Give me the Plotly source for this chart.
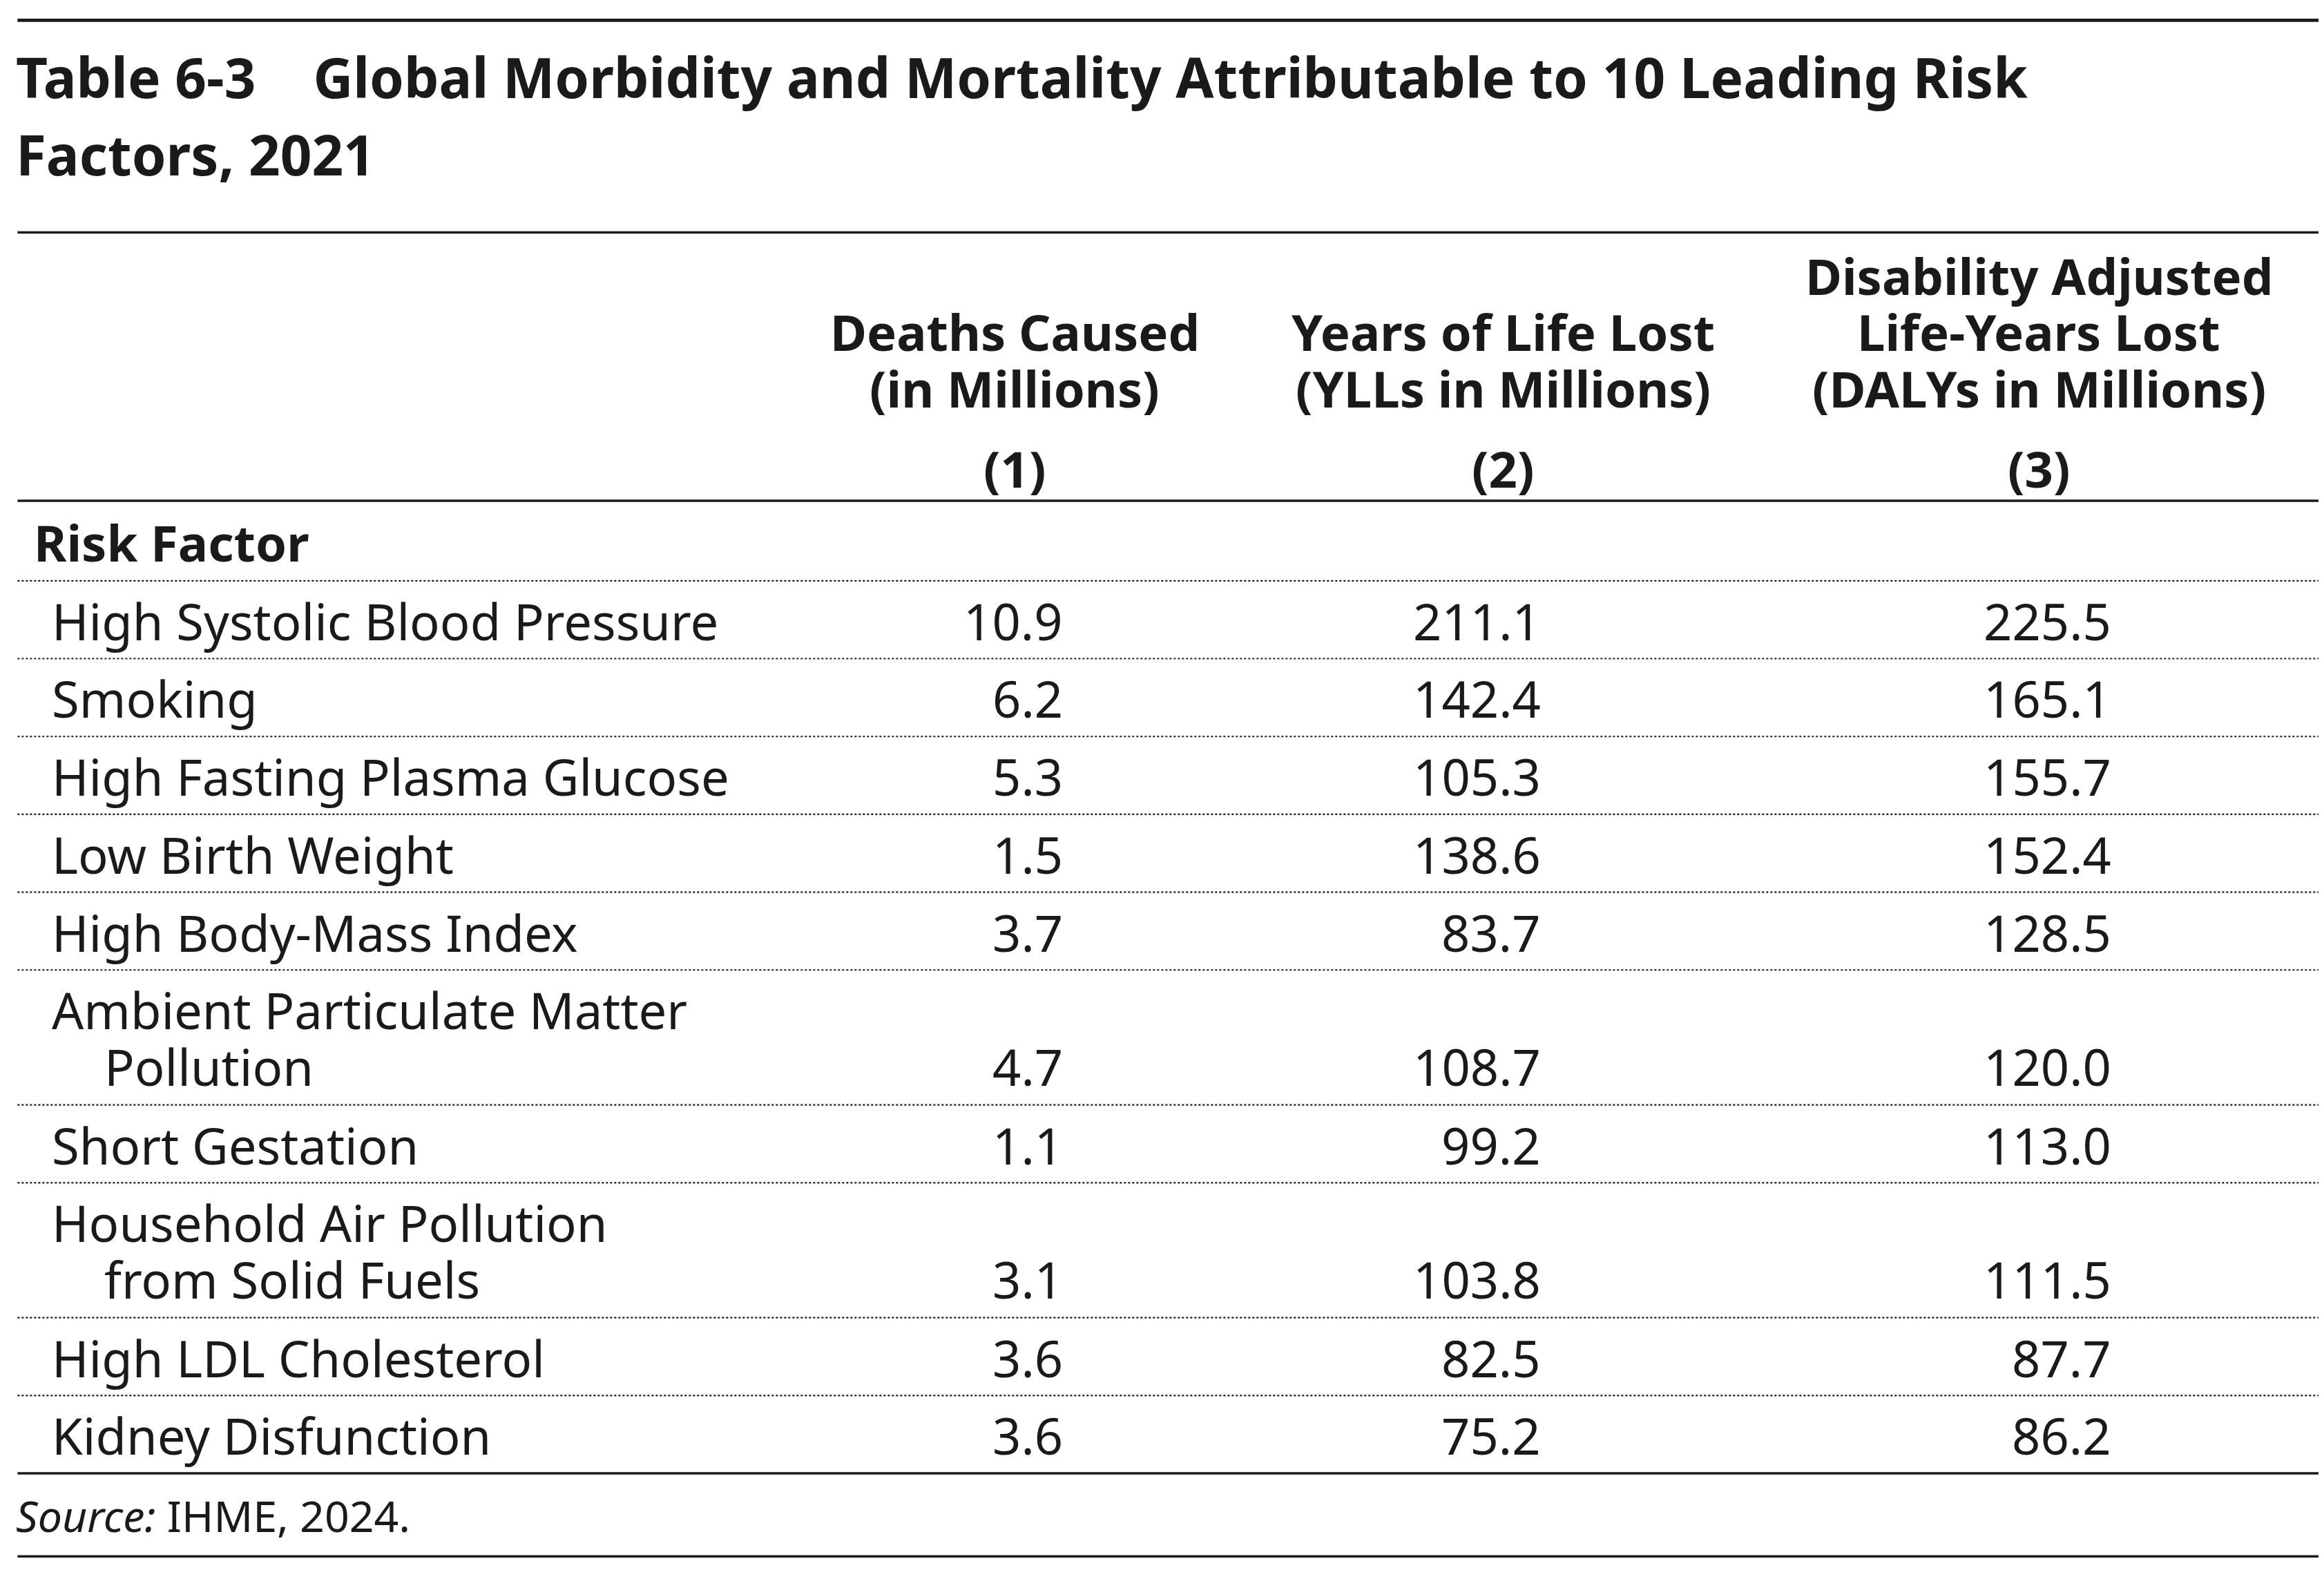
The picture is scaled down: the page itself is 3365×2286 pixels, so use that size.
import plotly.graph_objects as go

# table content
title_lines = ["Table 6-3    Global Morbidity and Mortality Attributable to 10 Leading Risk", "Factors, 2021"]
col_heads = [["Deaths Caused", "(in Millions)"],
             ["Years of Life Lost", "(YLLs in Millions)"],
             ["Disability Adjusted", "Life-Years Lost", "(DALYs in Millions)"]]
col_nums = ["(1)", "(2)", "(3)"]
risk_factors = [["High Systolic Blood Pressure"], ["Smoking"], ["High Fasting Plasma Glucose"],
                ["Low Birth Weight"], ["High Body-Mass Index"],
                ["Ambient Particulate Matter", "Pollution"], ["Short Gestation"],
                ["Household Air Pollution", "from Solid Fuels"], ["High LDL Cholesterol"],
                ["Kidney Disfunction"]]
deaths = ["10.9", "6.2", "5.3", "1.5", "3.7", "4.7", "1.1", "3.1", "3.6", "3.6"]
ylls = ["211.1", "142.4", "105.3", "138.6", "83.7", "108.7", "99.2", "103.8", "82.5", "75.2"]
dalys = ["225.5", "165.1", "155.7", "152.4", "128.5", "120.0", "113.0", "111.5", "87.7", "86.2"]
source = "<i>Source:</i> IHME, 2024."

S = 2.16  # display-to-pixel scale
FONT = "Noto Sans"
INK = "#1a1a1a"
fig = go.Figure()
ann = []
shapes = []

def text(x, y, s, size, bold=False, anchor="left"):
    if bold:
        s = "<b>" + s + "</b>"
    ann.append(dict(x=x, y=y, text=s, showarrow=False, xanchor=anchor, yanchor="middle",
                    font=dict(family=FONT, size=size * S, color=INK)))

def hline(y, w, dot=False):
    shapes.append(dict(type="line", x0=8, x1=1546, y0=y, y1=y,
                       line=dict(color=INK, width=w, dash="dot" if dot else "solid")))

# title
text(6, 48, title_lines[0], 37, True)
text(6, 100, title_lines[1], 37, True)
hline(10, 2.2 * S)
hline(153, 1.6 * S)

# column headers
col_cx = [674, 1000, 1358]
col_rx = [707, 1026, 1407]
for cx, head, num in zip(col_cx, col_heads, col_nums):
    ys = [220, 258] if len(head) == 2 else [182, 220, 258]
    for y, h in zip(ys, head):
        text(cx, y, h, 33.5, True, "center")
    text(cx, 312, num, 33.5, True, "center")
hline(334, 1.6 * S)
text(18, 362, "Risk Factor", 33.5, True)

# body rows
y = 388
for label, d, yl, da in zip(risk_factors, deaths, ylls, dalys):
    h = 52.5 if len(label) == 1 else 91
    hline(y, 1.0 * S, dot=True)
    text(30, y + 27, label[0], 33.5)
    vy = y + 27
    if len(label) > 1:
        text(65, y + 65, label[1], 33.5)
        vy = y + 65
    for rx, v in zip(col_rx, [d, yl, da]):
        text(rx, vy, v, 33.5, anchor="right")
    y += h
hline(990, 1.6 * S)
text(6, 1018, source, 29)
hline(1046, 1.6 * S)

fig.update_layout(width=3365, height=2286, margin=dict(l=0, r=0, t=0, b=0),
                  paper_bgcolor="white", plot_bgcolor="white",
                  annotations=ann, shapes=shapes,
                  xaxis=dict(range=[0, 1552], visible=False),
                  yaxis=dict(range=[1065, 0], visible=False), showlegend=False)
fig.write_html("out.html")
